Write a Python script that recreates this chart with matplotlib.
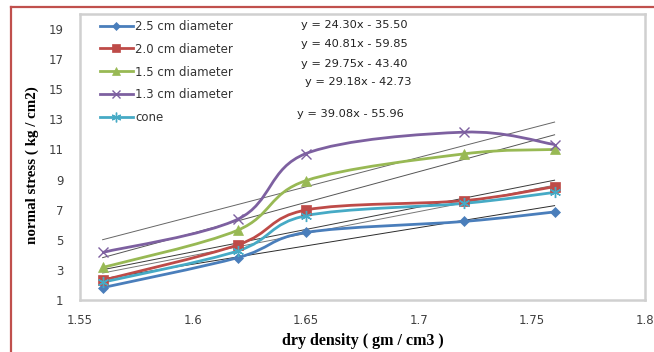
import matplotlib
matplotlib.use("Agg")
import matplotlib.pyplot as plt
import numpy as np
from matplotlib.path import Path
from matplotlib.patches import PathPatch
from matplotlib.lines import Line2D

# === Data ===
density = [1.56, 1.62, 1.65, 1.72, 1.76]
d25 = [1.82, 3.82, 5.49, 6.22, 6.85]
d20 = [2.31, 4.67, 6.98, 7.60, 8.53]
d15 = [3.16, 5.65, 8.93, 10.71, 11.00]
d13 = [4.16, 6.38, 10.73, 12.15, 11.33]
cone = [2.18, 4.27, 6.60, 7.42, 8.15]

series_names = ["2.5 cm diameter", "2.0 cm diameter", "1.5 cm diameter", "1.3 cm diameter", "cone"]
series_vals = [d25, d20, d15, d13, cone]
colors = ["#4a7ebb", "#be4b48", "#98b954", "#7d60a0", "#46aac5"]
markers = ["D", "s", "^", "x", (6, 2, 0)]
msizes = [5, 7, 7, 7, 8]

# trendline slope / intercept as printed on the chart
slopes = [24.30, 40.81, 29.75, 29.18, 39.08]
intercepts = [-35.50, -59.85, -43.40, -42.73, -55.96]
eq_pos = [(1.648, 19.27), (1.6477, 18.0), (1.648, 16.67), (1.6495, 15.47), (1.646, 13.33)]
trend_colors = ["#2b2b2b", "#555555", "#3a3a3a", "#777777", "#666666"]

x_ticks = [1.55, 1.6, 1.65, 1.7, 1.75, 1.8]
y_ticks = [1, 3, 5, 7, 9, 11, 13, 15, 17, 19]


def smooth_path(xs, ys):
    # Excel style smoothed line: Catmull-Rom segments as cubic Beziers
    p = np.column_stack([xs, ys])
    ext = np.vstack([p[0], p, p[-1]])
    verts = [p[0]]
    codes = [Path.MOVETO]
    for i in range(len(p) - 1):
        p0, p1, p2, p3 = ext[i], ext[i + 1], ext[i + 2], ext[i + 3]
        verts += [p1 + (p2 - p0) / 6, p2 - (p3 - p1) / 6, p2]
        codes += [Path.CURVE4] * 3
    return Path(verts, codes)


fig = plt.figure(figsize=(6.54, 3.52), dpi=100)
ax = fig.add_axes([80 / 654, 1 - 300 / 352, 565 / 654, 286 / 352])

handles = []
for name, vals, c, m, ms in zip(series_names, series_vals, colors, markers, msizes):
    ax.add_patch(PathPatch(smooth_path(density, vals), facecolor="none",
                           edgecolor=c, lw=2.0, zorder=3))
    mew = 1.0 if m in ("x",) or isinstance(m, tuple) else 0.5
    ax.plot(density, vals, linestyle="none", marker=m, ms=ms, color=c,
            mec=c, mew=mew, zorder=4)
    handles.append(Line2D([], [], color=c, lw=2.0, marker=m, ms=ms - 1, mec=c, mew=mew))

xt = np.array([density[0], density[-1]])
for s, b, tc, pos in zip(slopes, intercepts, trend_colors, eq_pos):
    ax.plot(xt, s * xt + b, color=tc, lw=0.7, zorder=2)
    ax.text(pos[0], pos[1], f"y = {s:.2f}x - {abs(b):.2f}", fontsize=8.2,
            color="#222222", ha="left", va="center")

ax.set_xlim(1.55, 1.8)
ax.set_ylim(1, 20)
ax.set_xticks(x_ticks)
ax.set_xticklabels(["1.55", "1.6", "1.65", "1.7", "1.75", "1.8"])
ax.set_yticks(y_ticks)
ax.tick_params(length=0, labelsize=8.5, labelcolor="#404040")
ax.tick_params(axis="y", pad=12)
ax.tick_params(axis="x", pad=10)
for sp in ax.spines.values():
    sp.set_color("#d0d0d0")
    sp.set_linewidth(1.8)

leg = ax.legend(handles, series_names, loc="upper left", bbox_to_anchor=(0.025, 1.0),
                frameon=False, fontsize=8.5, handlelength=2.8, handletextpad=0.2,
                labelspacing=0.84, borderaxespad=0.08)
for t in leg.get_texts():
    t.set_color("#333333")

fig.text(363 / 654, 1 - 341 / 352, "dry density ( gm / cm3 )", ha="center", va="center",
         fontsize=11.5, fontweight="bold", family="Liberation Serif")
fig.text(32 / 654, 1 - 165 / 352, "normal stress ( kg / cm2)", ha="center", va="center",
         rotation=90, fontsize=10.8, fontweight="bold", family="Liberation Serif")

# red outline of the figure (top and left edges)
red = "#c0504d"
fig.add_artist(Line2D([10.5 / 654, 1.0], [1 - 6.5 / 352, 1 - 6.5 / 352], color=red, lw=1.6))
fig.add_artist(Line2D([10.5 / 654, 10.5 / 654], [0, 1 - 6.5 / 352], color=red, lw=1.6))

fig.savefig("out.png", dpi=100)
